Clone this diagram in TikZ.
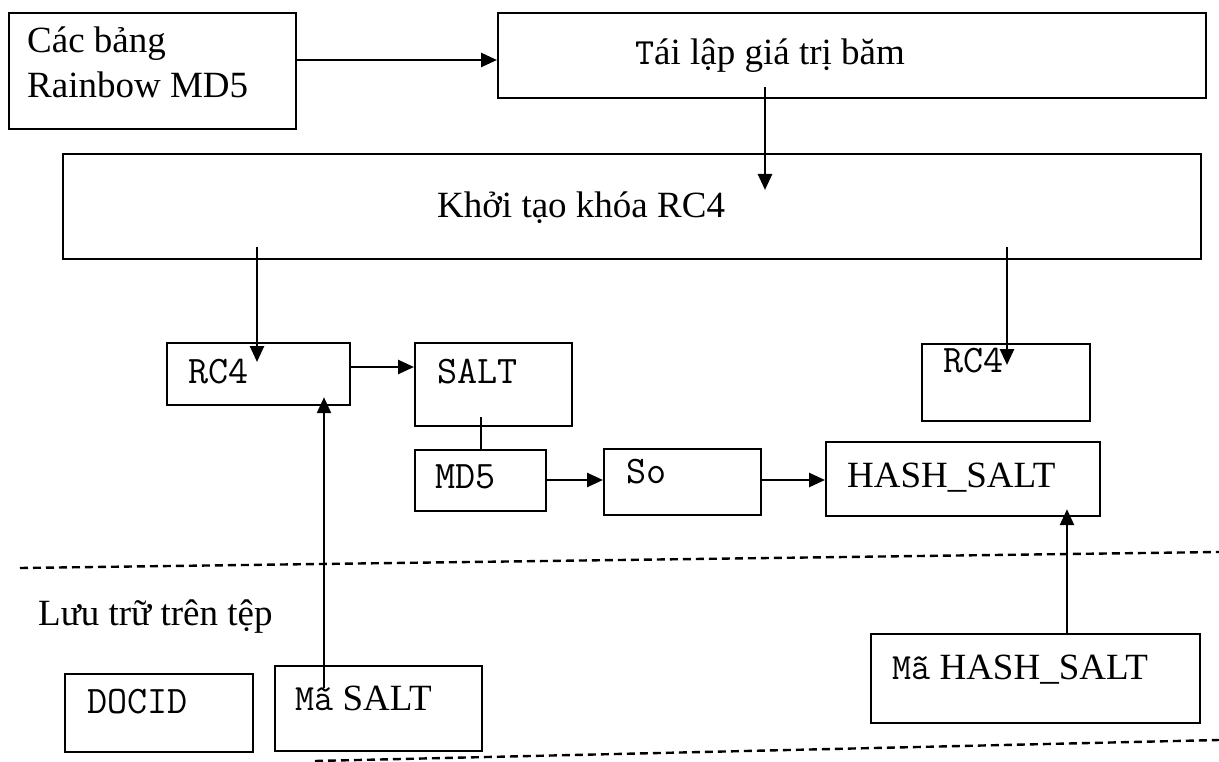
\documentclass[tikz,border=0pt]{standalone}
\usepackage{fontspec}
\setmainfont{Liberation Serif}
\usetikzlibrary{arrows.meta,calc}
\newcommand\cour{\ttfamily}

\begin{document}
\begin{tikzpicture}[x=1pt,y=-1pt,
  box/.style={draw, line width=2.2pt, inner sep=0pt, anchor=north west},
  txt/.style={anchor=base west, inner sep=0pt, font=\fontsize{37}{45}\selectfont},
  mono/.style={anchor=base west, inner sep=0pt, font=\fontsize{39}{45}\selectfont\cour},
  arr/.style={line width=2.6pt, -{Triangle[length=16pt,width=14pt]}},
  link/.style={line width=2.6pt},
  sep/.style={line width=2.4pt, dash pattern=on 8pt off 5pt}]
\useasboundingbox (0,0) rectangle (1219,762);

% boxes
\node[box, minimum width=287pt, minimum height=116pt] (rb)    at (8,12)   {};
\node[box, minimum width=708pt, minimum height=85pt]  (tl)    at (497,12) {};
\node[box, minimum width=1138pt,minimum height=105pt] (kt)    at (62,153) {};
\node[box, minimum width=183pt, minimum height=62pt]  (rc4a)  at (166,342) {};
\node[box, minimum width=157pt, minimum height=83pt]  (salt)  at (414,342) {};
\node[box, minimum width=168pt, minimum height=77pt]  (rc4b)  at (921,343) {};
\node[box, minimum width=131pt, minimum height=61pt]  (md5)   at (414,449) {};
\node[box, minimum width=157pt, minimum height=66pt]  (so)    at (603,448) {};
\node[box, minimum width=274pt, minimum height=74pt]  (hs)    at (825,441) {};
\node[box, minimum width=188pt, minimum height=78pt]  (docid) at (64,673) {};
\node[box, minimum width=207pt, minimum height=85pt]  (msalt) at (274,665) {};
\node[box, minimum width=329pt, minimum height=89pt]  (mhs)   at (870,633) {};

% labels
\node[txt] (rbT1) at (27,53) {Các bảng};
\node[txt] (rbT2) at (27,98) {Rainbow MD5};
\node[txt, anchor=base] (tlT) at (770,65) {{\cour T}ái lập giá trị băm};
\node[txt] (ktT) at (437,218) {Khởi tạo khóa RC4};
\node[mono] (rc4aT) at (188,383) {RC4};
\node[mono] (saltT) at (437,383) {SALT};
\node[mono] (rc4bT) at (943,372) {RC4};
\node[mono] (md5T) at (435,488) {MD5};
\node[mono] (soT) at (626,483) {So};
\node[txt] (hsT) at (847,487) {HASH\_SALT};
\node[txt] (luuT) at (38,625) {Lưu trữ trên tệp};
\node[mono] (docT) at (87,713) {DOCID};
\node[txt] (msT) at (295,710) {{\cour Mã} SALT};
\node[txt] (mhsT) at (892,679) {{\cour Mã} HASH\_SALT};

% connectors
\draw[arr] (rb.east |- 0,60) -- (tl.west |- 0,60);
\draw[arr] ($(tl.south west)+(268,-12)$) -- ($(kt.north west)+(703,37)$);
\draw[arr] ($(kt.south west)+(195,-13)$) -- ($(rc4a.north west)+(91,20)$);
\draw[arr] ($(kt.south west)+(945,-13)$) -- ($(rc4b.north west)+(86,22)$);
\draw[arr] (rc4a.east |- 0,367) -- (salt.west |- 0,367);
\draw[link] ($(salt.south west)+(67,-10)$) -- ($(md5.north west)+(67,0)$);
\draw[arr] (md5.east |- 0,480) -- (so.west |- 0,480);
\draw[arr] (so.east |- 0,480) -- (hs.west |- 0,480);
\draw[arr] ($(mhs.north west)+(197,0)$) -- ($(hs.south west)+(242,-8)$);
\draw[arr] ($(msalt.north west)+(50,23)$) -- ($(rc4a.south west)+(158,-9)$);

% storage separators
\draw[sep] (20,568) -- (1219,552);
\draw[sep] (315,761) -- (1219,740);
\end{tikzpicture}
\end{document}
